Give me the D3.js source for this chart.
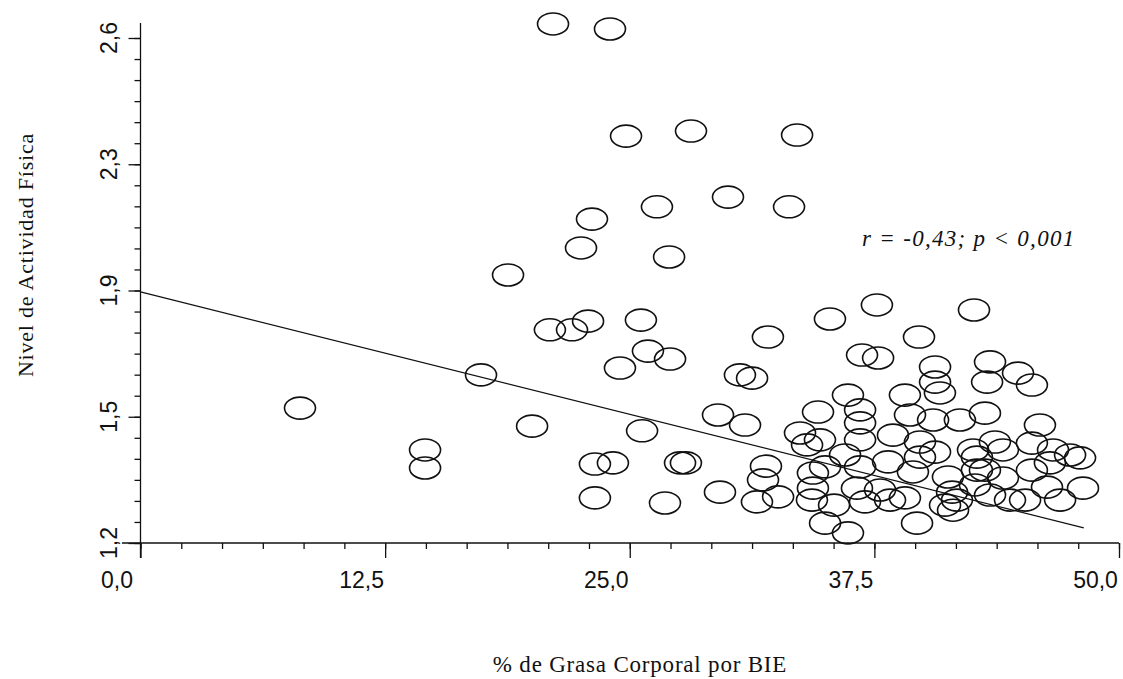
<!DOCTYPE html>
<html>
<head>
<meta charset="utf-8">
<script src="https://cdn.jsdelivr.net/npm/d3@7"></script>
<style>
  body { margin: 0; background: #fff; }
  svg { display: block; }
</style>
</head>
<body>
<svg id="chart" width="1123" height="679"></svg>
<script>
// % grasa corporal (x) and nivel de actividad fisica (y)
const grasa = [
  8.15, 14.54, 14.54, 17.40, 18.78, 20.01, 21.08, 23.99, 22.51, 23.07,
  20.92, 22.05, 22.87, 25.57, 25.93, 27.06, 24.50, 24.81, 26.39, 27.01,
  28.13, 30.02, 33.14, 33.55, 23.22, 24.14, 27.57, 27.87, 23.22, 26.80,
  25.63, 29.51, 30.89, 30.63, 31.25, 32.06, 35.23, 29.61,
  37.63, 39.78, 42.59, 36.87, 37.69, 40.60, 40.60, 43.41, 43.26, 44.84,
  45.55, 36.15, 36.77, 36.77, 36.77, 34.62, 39.06, 40.85, 43.15, 33.70,
  34.06, 38.45, 39.83, 40.50, 42.54, 43.66, 44.07, 45.55, 46.63, 31.96,
  31.81, 31.50, 32.58, 34.36, 34.98, 34.36, 34.31, 35.44, 34.98, 36.15,
  36.77, 36.61, 37.02, 39.06, 39.68, 39.47, 39.83, 41.26, 41.47, 41.72,
  42.74, 42.74, 44.07, 44.43, 46.32, 46.99, 48.16, 46.47, 45.55, 41.52,
  41.11, 38.20, 37.79, 40.60, 48.01, 43.41, 42.64, 39.32, 41.87, 34.72,
  36.00, 38.30, 45.20, 45.96, 47.50, 43.15
];
const actividad = [
  1.574, 1.458, 1.408, 1.666, 1.943, 1.524, 2.639, 2.625, 2.018, 2.098,
  1.791, 1.791, 1.815, 1.818, 1.732, 1.710, 1.685, 2.328, 2.132, 1.993,
  2.342, 2.159, 2.132, 2.331, 1.419, 1.422, 1.422, 1.422, 1.325, 1.311,
  1.511, 1.555, 1.527, 1.666, 1.657, 1.771, 1.821, 1.341,
  1.860, 1.771, 1.846, 1.721, 1.713, 1.688, 1.646, 1.702, 1.646, 1.671,
  1.638, 1.610, 1.569, 1.533, 1.486, 1.563, 1.610, 1.616, 1.560, 1.505,
  1.472, 1.499, 1.480, 1.541, 1.458, 1.480, 1.458, 1.477, 1.458, 1.413,
  1.375, 1.314, 1.328, 1.394, 1.411, 1.352, 1.319, 1.305, 1.255, 1.228,
  1.411, 1.352, 1.314, 1.325, 1.255, 1.397, 1.438, 1.383, 1.341, 1.319,
  1.438, 1.402, 1.380, 1.319, 1.355, 1.319, 1.352, 1.422, 1.402, 1.291,
  1.305, 1.425, 1.347, 1.452, 1.436, 1.333, 1.361, 1.555, 1.541, 1.486,
  1.444, 1.319, 1.319, 1.527, 1.444, 1.402
];

// regression line end points
const fitX = [0, 48.2];
const fitY = [1.896, 1.242];

const xTicks = [0, 12.5, 25, 37.5, 50];
const xTickLabels = ["0,0", "12,5", "25,0", "37,5", "50,0"];
const yTicks = [1.2, 1.55, 1.9, 2.25, 2.6];
const yTickLabels = ["1,2", "1,5", "1,9", "2,3", "2,6"];

const annotation = "r = -0,43; p < 0,001";
const xTitle = "% de Grasa Corporal por BIE";
const yTitle = "Nivel de Actividad Física";

const svg = d3.select("#chart");
const ink = "#111";

const x = d3.scaleLinear().domain([0, 50]).range([140.5, 1119]);
const y = d3.scaleLinear().domain([1.2, 2.6]).range([543, 38]);

// minor ticks: sixths of each major interval
const xMinor = d3.range(0, 50.001, 12.5 / 6);
const yMinor = d3.range(1.2, 2.6401, 0.35 / 6);

// x axis
const gx = svg.append("g").attr("transform", "translate(0,543)");
gx.append("line")
  .attr("x1", 122).attr("x2", x(50))
  .attr("stroke", ink).attr("stroke-width", 1.8);
gx.append("g")
  .call(d3.axisBottom(x).tickValues(xMinor).tickSize(6).tickFormat(""))
  .call(g => g.select(".domain").remove());
gx.append("g")
  .call(d3.axisBottom(x).tickValues(xTicks).tickSize(15)
    .tickFormat((d, i) => xTickLabels[i]))
  .call(g => g.select(".domain").remove())
  .call(g => g.selectAll("text")
    .attr("dx", -24).attr("y", 29)
    .attr("font-family", "Liberation Sans, Arial, sans-serif")
    .attr("font-size", 23).attr("fill", ink));
gx.selectAll("line").attr("stroke", ink).attr("stroke-width", 1.3);

// y axis
const gy = svg.append("g").attr("transform", "translate(140.5,0)");
gy.append("line")
  .attr("y1", 23).attr("y2", 558)
  .attr("stroke", ink).attr("stroke-width", 1.8);
gy.append("g")
  .call(d3.axisLeft(y).tickValues(yMinor).tickSize(6).tickFormat(""))
  .call(g => g.select(".domain").remove());
gy.append("g")
  .call(d3.axisLeft(y).tickValues(yTicks).tickSize(12).tickFormat(""))
  .call(g => g.select(".domain").remove());
gy.selectAll("line").attr("stroke", ink).attr("stroke-width", 1.3);

svg.append("g").selectAll("text")
  .data(yTicks)
  .join("text")
  .attr("transform", d => `translate(117,${y(d)}) rotate(-90)`)
  .attr("text-anchor", "middle")
  .attr("font-family", "Liberation Sans, Arial, sans-serif")
  .attr("font-size", 23).attr("fill", ink)
  .text((d, i) => yTickLabels[i]);

// regression line
svg.append("line")
  .attr("x1", x(fitX[0])).attr("y1", y(fitY[0]))
  .attr("x2", x(fitX[1])).attr("y2", y(fitY[1]))
  .attr("stroke", ink).attr("stroke-width", 1.2);

// points
const pts = grasa.map((g, i) => ({ g, a: actividad[i] }));
svg.append("g").selectAll("ellipse")
  .data(pts)
  .join("ellipse")
  .attr("cx", d => x(d.g))
  .attr("cy", d => y(d.a))
  .attr("rx", 15.5).attr("ry", 11)
  .attr("fill", "none")
  .attr("stroke", ink).attr("stroke-width", 1.6);

// annotation
svg.append("text")
  .attr("x", 862).attr("y", 246)
  .attr("font-family", "Liberation Serif, Times New Roman, serif")
  .attr("font-style", "italic")
  .attr("font-size", 23).attr("letter-spacing", 1.3).attr("fill", ink)
  .text(annotation);

// titles
svg.append("text")
  .attr("x", 640).attr("y", 672)
  .attr("text-anchor", "middle")
  .attr("font-family", "Liberation Serif, Times New Roman, serif")
  .attr("font-size", 23).attr("letter-spacing", 0.8).attr("fill", ink)
  .text(xTitle);

svg.append("text")
  .attr("transform", "translate(33,255) rotate(-90)")
  .attr("text-anchor", "middle")
  .attr("font-family", "Liberation Serif, Times New Roman, serif")
  .attr("font-size", 22).attr("letter-spacing", 0.8).attr("fill", ink)
  .text(yTitle);
</script>
</body>
</html>
